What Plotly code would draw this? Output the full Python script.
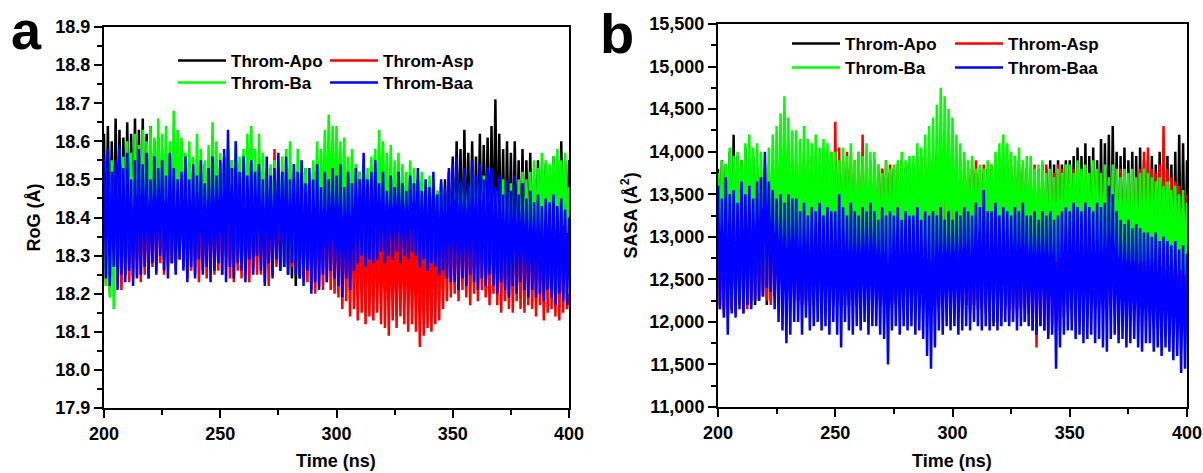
import numpy as np
import plotly.graph_objects as go

# ---------------- data ----------------
TIME_NS = np.linspace(200, 400, 241)   # sampling grid, 200-400 ns

SERIES = ["Throm-Apo", "Throm-Asp", "Throm-Ba", "Throm-Baa"]
COLORS = ["#000000", "#FF0000", "#00FF00", "#0000FF"]

# Radius of gyration (Å)
ROG_APO = [
    18.62, 18.28, 18.64, 18.30, 18.60, 18.27, 18.66, 18.31, 18.63, 18.29, 18.61, 18.30, 18.65, 18.28, 18.62, 18.31, 18.66, 18.29, 18.63, 18.30,
    18.66, 18.30, 18.62, 18.28, 18.64, 18.31, 18.60, 18.29, 18.61, 18.32, 18.58, 18.29, 18.57, 18.31, 18.56, 18.28, 18.55, 18.30, 18.54, 18.31,
    18.55, 18.30, 18.52, 18.28, 18.54, 18.31, 18.50, 18.29, 18.53, 18.30, 18.51, 18.28, 18.54, 18.31, 18.52, 18.29, 18.50, 18.30, 18.53, 18.28,
    18.54, 18.29, 18.56, 18.30, 18.58, 18.28, 18.55, 18.31, 18.52, 18.29, 18.54, 18.30, 18.51, 18.28, 18.53, 18.31, 18.52, 18.29, 18.50, 18.30,
    18.50, 18.30, 18.52, 18.28, 18.49, 18.27, 18.53, 18.29, 18.51, 18.28, 18.50, 18.26, 18.52, 18.27, 18.49, 18.25, 18.51, 18.24, 18.50, 18.22,
    18.52, 18.24, 18.50, 18.28, 18.53, 18.27, 18.49, 18.30, 18.52, 18.29, 18.50, 18.30, 18.51, 18.28, 18.49, 18.31, 18.52, 18.29, 18.50, 18.30,
    18.50, 18.30, 18.52, 18.28, 18.49, 18.31, 18.51, 18.29, 18.48, 18.30, 18.50, 18.31, 18.52, 18.29, 18.49, 18.30, 18.51, 18.28, 18.48, 18.30,
    18.50, 18.31, 18.47, 18.29, 18.51, 18.30, 18.48, 18.32, 18.50, 18.30, 18.49, 18.31, 18.47, 18.29, 18.50, 18.30, 18.48, 18.31, 18.49, 18.30,
    18.49, 18.31, 18.50, 18.29, 18.47, 18.30, 18.48, 18.28, 18.46, 18.30, 18.48, 18.29, 18.47, 18.31, 18.49, 18.28, 18.50, 18.30, 18.52, 18.29,
    18.56, 18.29, 18.60, 18.31, 18.58, 18.28, 18.63, 18.30, 18.57, 18.27, 18.60, 18.29, 18.56, 18.30, 18.62, 18.28, 18.59, 18.31, 18.61, 18.27,
    18.64, 18.29, 18.71, 18.26, 18.62, 18.28, 18.58, 18.24, 18.60, 18.27, 18.57, 18.25, 18.60, 18.28, 18.55, 18.26, 18.58, 18.27, 18.55, 18.29,
    18.57, 18.29, 18.50, 18.27, 18.55, 18.30, 18.52, 18.28, 18.54, 18.29, 18.51, 18.27, 18.56, 18.30, 18.53, 18.28, 18.60, 18.29, 18.55, 18.28,
    18.55]
ROG_ASP = [
    18.45, 18.22, 18.48, 18.20, 18.50, 18.24, 18.46, 18.23, 18.49, 18.21, 18.47, 18.25, 18.50, 18.23, 18.46, 18.24, 18.49, 18.25, 18.47, 18.23,
    18.50, 18.25, 18.47, 18.24, 18.52, 18.27, 18.49, 18.26, 18.51, 18.28, 18.48, 18.25, 18.50, 18.27, 18.47, 18.28, 18.51, 18.26, 18.49, 18.29,
    18.60, 18.27, 18.48, 18.24, 18.50, 18.26, 18.47, 18.25, 18.49, 18.23, 18.51, 18.26, 18.48, 18.24, 18.50, 18.27, 18.47, 18.25, 18.49, 18.26,
    18.52, 18.25, 18.48, 18.27, 18.50, 18.24, 18.46, 18.23, 18.49, 18.26, 18.47, 18.24, 18.51, 18.25, 18.48, 18.23, 18.50, 18.26, 18.47, 18.25,
    18.47, 18.25, 18.50, 18.23, 18.48, 18.22, 18.52, 18.25, 18.58, 18.27, 18.49, 18.29, 18.52, 18.30, 18.50, 18.28, 18.53, 18.27, 18.49, 18.26,
    18.50, 18.26, 18.47, 18.24, 18.49, 18.23, 18.46, 18.21, 18.48, 18.20, 18.47, 18.22, 18.49, 18.21, 18.46, 18.23, 18.48, 18.21, 18.45, 18.20,
    18.45, 18.19, 18.47, 18.16, 18.44, 18.18, 18.46, 18.14, 18.45, 18.16, 18.43, 18.13, 18.46, 18.15, 18.44, 18.12, 18.45, 18.14, 18.43, 18.13,
    18.44, 18.15, 18.41, 18.12, 18.45, 18.11, 18.42, 18.09, 18.44, 18.13, 18.41, 18.11, 18.43, 18.14, 18.42, 18.12, 18.44, 18.10, 18.41, 18.12,
    18.40, 18.10, 18.43, 18.06, 18.41, 18.09, 18.44, 18.11, 18.42, 18.10, 18.43, 18.12, 18.44, 18.13, 18.45, 18.16, 18.43, 18.18, 18.46, 18.19,
    18.46, 18.20, 18.44, 18.18, 18.47, 18.21, 18.45, 18.19, 18.46, 18.17, 18.44, 18.20, 18.47, 18.18, 18.45, 18.21, 18.46, 18.19, 18.44, 18.17,
    18.48, 18.20, 18.44, 18.17, 18.46, 18.15, 18.43, 18.18, 18.45, 18.16, 18.44, 18.15, 18.46, 18.18, 18.43, 18.16, 18.45, 18.15, 18.44, 18.17,
    18.44, 18.16, 18.42, 18.14, 18.45, 18.17, 18.41, 18.13, 18.44, 18.15, 18.42, 18.16, 18.43, 18.14, 18.45, 18.13, 18.42, 18.15, 18.44, 18.16,
    18.20]
ROG_BA = [
    18.50, 18.22, 18.53, 18.19, 18.55, 18.16, 18.52, 18.24, 18.58, 18.30, 18.56, 18.33, 18.60, 18.31, 18.57, 18.34, 18.62, 18.33, 18.59, 18.35,
    18.63, 18.35, 18.60, 18.33, 18.64, 18.36, 18.61, 18.32, 18.66, 18.35, 18.62, 18.34, 18.64, 18.36, 18.60, 18.33, 18.68, 18.35, 18.63, 18.34,
    18.61, 18.33, 18.57, 18.35, 18.60, 18.31, 18.56, 18.34, 18.62, 18.36, 18.58, 18.33, 18.55, 18.35, 18.59, 18.32, 18.65, 18.36, 18.60, 18.34,
    18.57, 18.35, 18.54, 18.33, 18.58, 18.36, 18.55, 18.32, 18.60, 18.35, 18.56, 18.33, 18.58, 18.36, 18.62, 18.34, 18.64, 18.35, 18.58, 18.33,
    18.62, 18.34, 18.57, 18.36, 18.52, 18.33, 18.54, 18.35, 18.55, 18.32, 18.53, 18.34, 18.56, 18.30, 18.58, 18.28, 18.60, 18.30, 18.54, 18.29,
    18.58, 18.32, 18.55, 18.35, 18.53, 18.37, 18.51, 18.36, 18.55, 18.38, 18.60, 18.39, 18.58, 18.40, 18.63, 18.38, 18.67, 18.40, 18.64, 18.37,
    18.64, 18.40, 18.60, 18.38, 18.61, 18.37, 18.56, 18.35, 18.58, 18.38, 18.54, 18.36, 18.52, 18.38, 18.55, 18.35, 18.53, 18.36, 18.56, 18.37,
    18.58, 18.37, 18.63, 18.35, 18.60, 18.38, 18.57, 18.34, 18.59, 18.36, 18.55, 18.38, 18.57, 18.35, 18.54, 18.37, 18.52, 18.34, 18.55, 18.36,
    18.53, 18.35, 18.50, 18.37, 18.52, 18.34, 18.49, 18.36, 18.51, 18.35, 18.48, 18.37, 18.47, 18.33, 18.49, 18.35, 18.45, 18.33, 18.47, 18.35,
    18.50, 18.35, 18.52, 18.33, 18.49, 18.36, 18.51, 18.34, 18.48, 18.37, 18.52, 18.35, 18.50, 18.33, 18.49, 18.36, 18.51, 18.34, 18.48, 18.37,
    18.50, 18.34, 18.47, 18.32, 18.49, 18.30, 18.50, 18.26, 18.47, 18.24, 18.49, 18.25, 18.48, 18.23, 18.50, 18.27, 18.52, 18.30, 18.50, 18.33,
    18.52, 18.35, 18.55, 18.33, 18.53, 18.36, 18.57, 18.34, 18.55, 18.36, 18.54, 18.34, 18.56, 18.37, 18.58, 18.35, 18.55, 18.38, 18.57, 18.36,
    18.48]
ROG_BAA = [
    18.56, 18.24, 18.58, 18.22, 18.52, 18.27, 18.55, 18.21, 18.59, 18.25, 18.53, 18.23, 18.57, 18.26, 18.50, 18.22, 18.55, 18.24, 18.58, 18.25,
    18.54, 18.27, 18.57, 18.24, 18.50, 18.28, 18.56, 18.25, 18.53, 18.30, 18.55, 18.26, 18.51, 18.24, 18.57, 18.28, 18.53, 18.25, 18.50, 18.29,
    18.52, 18.26, 18.56, 18.23, 18.50, 18.27, 18.54, 18.24, 18.51, 18.29, 18.55, 18.25, 18.49, 18.27, 18.53, 18.23, 18.56, 18.26, 18.51, 18.28,
    18.55, 18.25, 18.58, 18.23, 18.63, 18.27, 18.53, 18.24, 18.60, 18.28, 18.52, 18.26, 18.56, 18.23, 18.51, 18.29, 18.55, 18.25, 18.52, 18.30,
    18.54, 18.26, 18.50, 18.22, 18.56, 18.28, 18.51, 18.24, 18.53, 18.29, 18.57, 18.26, 18.52, 18.27, 18.56, 18.25, 18.50, 18.28, 18.54, 18.25,
    18.52, 18.24, 18.55, 18.22, 18.49, 18.26, 18.53, 18.20, 18.50, 18.23, 18.54, 18.21, 18.48, 18.25, 18.52, 18.23, 18.50, 18.26, 18.53, 18.24,
    18.51, 18.22, 18.54, 18.19, 18.48, 18.24, 18.52, 18.21, 18.49, 18.26, 18.53, 18.28, 18.50, 18.30, 18.57, 18.27, 18.50, 18.29, 18.52, 18.28,
    18.55, 18.29, 18.49, 18.31, 18.52, 18.28, 18.47, 18.30, 18.51, 18.29, 18.48, 18.31, 18.52, 18.28, 18.49, 18.30, 18.47, 18.29, 18.51, 18.31,
    18.49, 18.30, 18.53, 18.27, 18.47, 18.29, 18.50, 18.26, 18.48, 18.28, 18.52, 18.27, 18.46, 18.25, 18.50, 18.26, 18.48, 18.24, 18.53, 18.23,
    18.54, 18.23, 18.56, 18.21, 18.50, 18.24, 18.53, 18.22, 18.49, 18.25, 18.55, 18.23, 18.51, 18.21, 18.54, 18.24, 18.50, 18.22, 18.53, 18.25,
    18.53, 18.22, 18.48, 18.20, 18.51, 18.23, 18.46, 18.21, 18.50, 18.19, 18.47, 18.22, 18.51, 18.20, 18.46, 18.23, 18.49, 18.21, 18.45, 18.19,
    18.47, 18.21, 18.44, 18.19, 18.46, 18.20, 18.43, 18.18, 18.45, 18.21, 18.44, 18.19, 18.46, 18.17, 18.43, 18.20, 18.45, 18.18, 18.42, 18.17,
    18.40]

# Solvent accessible surface area (Å²)
SASA_APO = [
    13800, 12200, 13900, 12150, 13850, 12250, 14000, 12150, 14200, 12200, 13950, 12250, 13900, 12150, 14050, 12200, 13900, 12250, 13950, 12200,
    13850, 12250, 13700, 12300, 13800, 12200, 13750, 12250, 13700, 12300, 13800, 12250, 13750, 12200, 13700, 12300, 13750, 12250, 13700, 12300,
    13750, 12250, 13700, 12200, 13800, 12250, 13750, 12300, 13700, 12200, 13750, 12250, 13800, 12200, 13700, 12300, 13750, 12250, 13700, 12200,
    13800, 12250, 13750, 12200, 13700, 12300, 13800, 12200, 13750, 12250, 13700, 12200, 13800, 12300, 13750, 12250, 13700, 12200, 13750, 12250,
    13700, 12200, 13750, 12250, 13800, 12200, 13700, 12300, 13750, 12200, 13800, 12250, 13700, 12200, 13750, 12300, 13800, 12250, 13700, 12200,
    13800, 12250, 13700, 12200, 13750, 12300, 13800, 12250, 13700, 12200, 13750, 12250, 13800, 12200, 13700, 12300, 13750, 12250, 13700, 12200,
    13750, 12200, 13700, 12250, 13800, 12150, 13750, 12200, 13700, 12150, 13800, 12200, 13750, 12250, 13700, 12150, 13750, 12200, 13800, 12150,
    13750, 11950, 13800, 12100, 13700, 12150, 13750, 12200, 13800, 12150, 13750, 12200, 13700, 12150, 13800, 12200, 13750, 12150, 13800, 12200,
    13750, 12200, 13700, 12150, 13800, 12200, 13850, 12250, 13800, 12200, 13900, 12250, 13850, 12200, 13900, 12250, 13850, 12200, 13900, 12250,
    13900, 12250, 13950, 12200, 14050, 12250, 13950, 12200, 14100, 12250, 13950, 12200, 14050, 12250, 13900, 12200, 14150, 12250, 14100, 12200,
    14200, 12200, 14300, 12250, 14000, 12200, 13950, 12250, 14050, 12200, 13900, 12150, 14000, 12200, 13950, 12250, 14050, 12200, 13900, 12150,
    13900, 12200, 13950, 12250, 13850, 12200, 14000, 12150, 13900, 12200, 13950, 12250, 13850, 12200, 14000, 12150, 14200, 12200, 14100, 12250,
    13900]
SASA_ASP = [
    13700, 12150, 13800, 12100, 13650, 12050, 13750, 12150, 13700, 12100, 13800, 12200, 13650, 12100, 13750, 12150, 13700, 12200, 13800, 12250,
    13750, 12300, 13800, 12350, 13700, 12250, 13850, 12200, 13800, 12300, 13750, 12250, 13850, 12300, 13800, 12200, 13750, 12300, 13850, 12250,
    13850, 12250, 13900, 12300, 14000, 12200, 13850, 12250, 13950, 12300, 13900, 12250, 13850, 12200, 13950, 12300, 13900, 12250, 14000, 12300,
    14350, 12250, 14050, 12300, 13900, 12200, 14000, 12250, 13950, 12300, 13900, 12250, 14000, 12300, 14200, 12250, 13950, 12200, 13900, 12300,
    13900, 12250, 13850, 12200, 13800, 12250, 13900, 12300, 13850, 12250, 13800, 12200, 13850, 12250, 13900, 12300, 13800, 12250, 13850, 12200,
    13850, 12200, 13900, 12250, 13950, 12150, 13850, 12200, 14000, 12250, 13900, 12200, 13850, 12150, 13950, 12250, 14000, 12200, 13900, 12250,
    13950, 12250, 13850, 12200, 13800, 12150, 13900, 12200, 13800, 12100, 13850, 12200, 13900, 12150, 13800, 12200, 13850, 12100, 13800, 12150,
    13850, 12150, 13900, 12000, 13800, 12050, 13850, 12150, 13900, 12000, 13850, 12100, 13800, 12050, 13900, 12150, 13850, 12000, 13800, 12100,
    13800, 11900, 13850, 11700, 13750, 11950, 13800, 11900, 13850, 11850, 13800, 11950, 13750, 12000, 13850, 11900, 13800, 12050, 13850, 12100,
    13750, 12150, 13800, 12200, 13700, 12150, 13750, 12200, 13800, 12150, 13700, 12200, 13750, 12150, 13800, 12200, 13700, 12150, 13750, 12200,
    13700, 12200, 13750, 12150, 13650, 12200, 13800, 12150, 13700, 12200, 13650, 12150, 13750, 12200, 13700, 12150, 13800, 12200, 14000, 12150,
    14050, 12150, 13800, 12200, 13750, 12150, 13850, 12200, 14300, 12150, 13800, 12100, 13700, 12200, 13650, 12150, 13600, 12200, 13550, 12250,
    13500]
SASA_BA = [
    13750, 12700, 13900, 12650, 13850, 12750, 14050, 12600, 13950, 12700, 14000, 12650, 13900, 12750, 14100, 12700, 14200, 12650, 14050, 12700,
    14100, 12650, 14000, 12600, 13900, 12550, 14050, 12700, 14200, 12750, 14300, 12700, 14450, 12750, 14650, 12800, 14400, 12750, 14250, 12800,
    14250, 12800, 14150, 12750, 14300, 12850, 14150, 12700, 14100, 12800, 14200, 12750, 14050, 12800, 14150, 12700, 14100, 12800, 14000, 12750,
    14000, 12750, 13900, 12800, 14050, 12700, 13950, 12800, 14100, 12750, 13900, 12700, 14000, 12800, 13950, 12750, 14100, 12700, 14000, 12750,
    14000, 12700, 13850, 12750, 13750, 12800, 13900, 12700, 13800, 12750, 13850, 12700, 13900, 12750, 14000, 12800, 13900, 12700, 13950, 12750,
    13950, 12800, 14100, 12750, 14050, 12700, 14200, 12750, 14300, 12700, 14400, 12650, 14550, 12700, 14750, 12750, 14650, 12800, 14500, 12750,
    14400, 12800, 14200, 12750, 14100, 12850, 14000, 12800, 13900, 12750, 13950, 12850, 13800, 12800, 13850, 12750, 13800, 12800, 13900, 12750,
    13850, 12750, 14000, 12800, 14100, 12700, 14200, 12800, 14100, 12750, 14000, 12800, 13950, 12750, 14050, 12700, 13900, 12800, 13950, 12750,
    13950, 12800, 13800, 12750, 13850, 12700, 13900, 12750, 13750, 12700, 13800, 12750, 13700, 12700, 13800, 12750, 13750, 12700, 13850, 12750,
    13850, 12750, 13750, 12800, 13900, 12700, 13800, 12750, 13850, 12700, 13750, 12800, 13900, 12750, 13800, 12700, 13750, 12750, 13850, 12700,
    13700, 12700, 13850, 12650, 13800, 12750, 13700, 12650, 13800, 12700, 13750, 12650, 13800, 12700, 13700, 12650, 13750, 12700, 13800, 12650,
    13750, 12650, 13700, 12700, 13650, 12600, 13700, 12650, 13600, 12600, 13650, 12650, 13550, 12600, 13600, 12550, 13500, 12600, 13550, 12550,
    13400]
SASA_BAA = [
    13600, 12150, 13450, 12050, 13700, 11850, 13500, 12100, 13550, 12050, 13400, 12150, 13650, 12100, 13500, 12200, 13600, 12150, 13450, 12250,
    13650, 12250, 13700, 12300, 14000, 12400, 13650, 12350, 13550, 12150, 13450, 12000, 13500, 11900, 13400, 11750, 13500, 11850, 13450, 12000,
    13450, 12000, 13300, 11850, 13400, 12050, 13250, 11900, 13350, 11950, 13300, 12000, 13400, 11900, 13250, 11950, 13350, 11850, 13300, 12000,
    13300, 11850, 13500, 11700, 13350, 12000, 13250, 11900, 13400, 11850, 13300, 11950, 13250, 11900, 13350, 12000, 13300, 11850, 13400, 11950,
    13300, 11950, 13200, 11850, 13350, 11800, 13250, 11500, 13300, 11900, 13250, 11950, 13350, 11850, 13200, 11950, 13300, 11900, 13250, 11950,
    13250, 11850, 13350, 11900, 13200, 11800, 13300, 11600, 13250, 11450, 13300, 11700, 13250, 11900, 13350, 11850, 13200, 11950, 13300, 11900,
    13200, 11950, 13300, 11850, 13250, 11900, 13350, 11950, 13300, 11900, 13250, 12000, 13400, 11950, 13350, 11900, 13550, 11950, 13300, 11900,
    13300, 12000, 13400, 11900, 13250, 11950, 13350, 12000, 13300, 11950, 13250, 12000, 13350, 11900, 13300, 11950, 13400, 12000, 13250, 11950,
    13250, 11900, 13300, 11850, 13200, 11950, 13300, 11900, 13250, 11800, 13300, 11850, 13200, 11450, 13250, 11700, 13300, 11850, 13350, 11900,
    13300, 11900, 13400, 11800, 13350, 11850, 13300, 11750, 13400, 11800, 13350, 11850, 13300, 11750, 13400, 11800, 13350, 11700, 13400, 11650,
    13600, 11800, 13500, 11850, 13300, 11750, 13200, 11800, 13150, 11700, 13200, 11750, 13100, 11800, 13150, 11700, 13100, 11650, 13050, 11750,
    13050, 11750, 13000, 11650, 13050, 11700, 12950, 11600, 13000, 11700, 12950, 11650, 12900, 11550, 12950, 11600, 12850, 11400, 12900, 11450,
    12800]

ROG = [ROG_APO, ROG_ASP, ROG_BA, ROG_BAA]
SASA = [SASA_APO, SASA_ASP, SASA_BA, SASA_BAA]
for _s in ROG + SASA:
    assert len(_s) == len(TIME_NS), len(_s)

X_TICKS = [200, 250, 300, 350, 400]
ROG_TICKS = [17.9, 18.0, 18.1, 18.2, 18.3, 18.4, 18.5, 18.6, 18.7, 18.8, 18.9]
SASA_TICKS = [11000, 11500, 12000, 12500, 13000, 13500, 14000, 14500, 15000, 15500]

# ---------------- figure ----------------
FONT = "Liberation Sans, Arial, sans-serif"
W, H = 1203, 473
LINE_W = 2.5
LEGEND_NAMES = ["legend", "legend", "legend2", "legend2"]
LEGEND_NAMES_B = ["legend3", "legend3", "legend4", "legend4"]

fig = go.Figure()
for name, col, vals, lg in zip(SERIES, COLORS, ROG, LEGEND_NAMES):
    fig.add_trace(go.Scatter(x=TIME_NS, y=vals, mode="lines", name=name,
                             line=dict(color=col, width=LINE_W), legend=lg,
                             xaxis="x", yaxis="y"))
for name, col, vals, lg in zip(SERIES, COLORS, SASA, LEGEND_NAMES_B):
    fig.add_trace(go.Scatter(x=TIME_NS, y=vals, mode="lines", name=name,
                             line=dict(color=col, width=LINE_W), legend=lg,
                             xaxis="x2", yaxis="y2"))


def px_x(p):
    return p / W


def px_y(p):
    return 1 - p / H


tickfont = dict(family=FONT, size=18, color="black", weight="bold")


def axis_common(**kw):
    d = dict(showline=True, linewidth=2, linecolor="black", mirror=True,
             ticks="outside", ticklen=8, tickwidth=2, tickcolor="black",
             showgrid=False, zeroline=False, tickfont=tickfont,
             automargin=False, fixedrange=True)
    d.update(kw)
    return d


fig.update_layout(
    width=W, height=H,
    margin=dict(l=0, r=0, t=0, b=0),
    paper_bgcolor="white", plot_bgcolor="white",
    showlegend=True,
    xaxis=axis_common(domain=[px_x(104), px_x(569)], range=[200, 400],
                      tickvals=X_TICKS, anchor="y",
                      minor=dict(ticks="outside", ticklen=5, tickwidth=2,
                                 tickcolor="black", dtick=25)),
    yaxis=axis_common(domain=[px_y(408), px_y(27)], range=[17.9, 18.9],
                      tickvals=ROG_TICKS, tickformat=".1f", anchor="x",
                      minor=dict(ticks="outside", ticklen=5, tickwidth=2,
                                 tickcolor="black", dtick=0.05)),
    xaxis2=axis_common(domain=[px_x(718), px_x(1187)], range=[200, 400],
                       tickvals=X_TICKS, anchor="y2",
                       minor=dict(ticks="outside", ticklen=5, tickwidth=2,
                                  tickcolor="black", dtick=25)),
    yaxis2=axis_common(domain=[px_y(407), px_y(24)], range=[11000, 15500],
                       tickvals=SASA_TICKS, tickformat=",d", anchor="x2",
                       minor=dict(ticks="outside", ticklen=5, tickwidth=2,
                                  tickcolor="black", dtick=250)),
)

legfont = dict(family=FONT, size=17, color="black", weight="bold")


def leg(xp, yp, ew):
    return dict(x=px_x(xp), y=px_y(yp), xanchor="left", yanchor="middle",
                orientation="h", entrywidth=ew, entrywidthmode="pixels",
                itemwidth=48, font=legfont, bgcolor="rgba(0,0,0,0)",
                borderwidth=0, itemclick=False, itemdoubleclick=False)


fig.update_layout(
    legend=leg(173, 61, 89),
    legend2=leg(173, 83, 89),
    legend3=leg(787, 44, 100),
    legend4=leg(787, 68, 100),
)

annots = [
    dict(text="a", x=px_x(26), y=px_y(30), font=dict(size=54)),
    dict(text="b", x=px_x(617), y=px_y(33), font=dict(size=56)),
    dict(text="RoG (Å)", x=px_x(33), y=px_y((27 + 408) / 2), textangle=-90,
         font=dict(size=18)),
    dict(text="SASA (Å<sup>2</sup>)", x=px_x(630), y=px_y((24 + 407) / 2),
         textangle=-90, font=dict(size=18)),
    dict(text="Time (ns)", x=px_x(336), y=px_y(461), font=dict(size=18)),
    dict(text="Time (ns)", x=px_x(952), y=px_y(461), font=dict(size=18)),
]
for a in annots:
    f = dict(family=FONT, color="black", weight="bold")
    f.update(a.pop("font"))
    fig.add_annotation(xref="paper", yref="paper", showarrow=False,
                       xanchor="center", yanchor="middle", font=f, **a)

# the page's default 8px body margin would shift the whole figure
fig.write_html("out.html",
               config={"displayModeBar": False},
               post_script="document.body.style.margin='0px';"
                           "document.body.style.overflow='hidden';")
